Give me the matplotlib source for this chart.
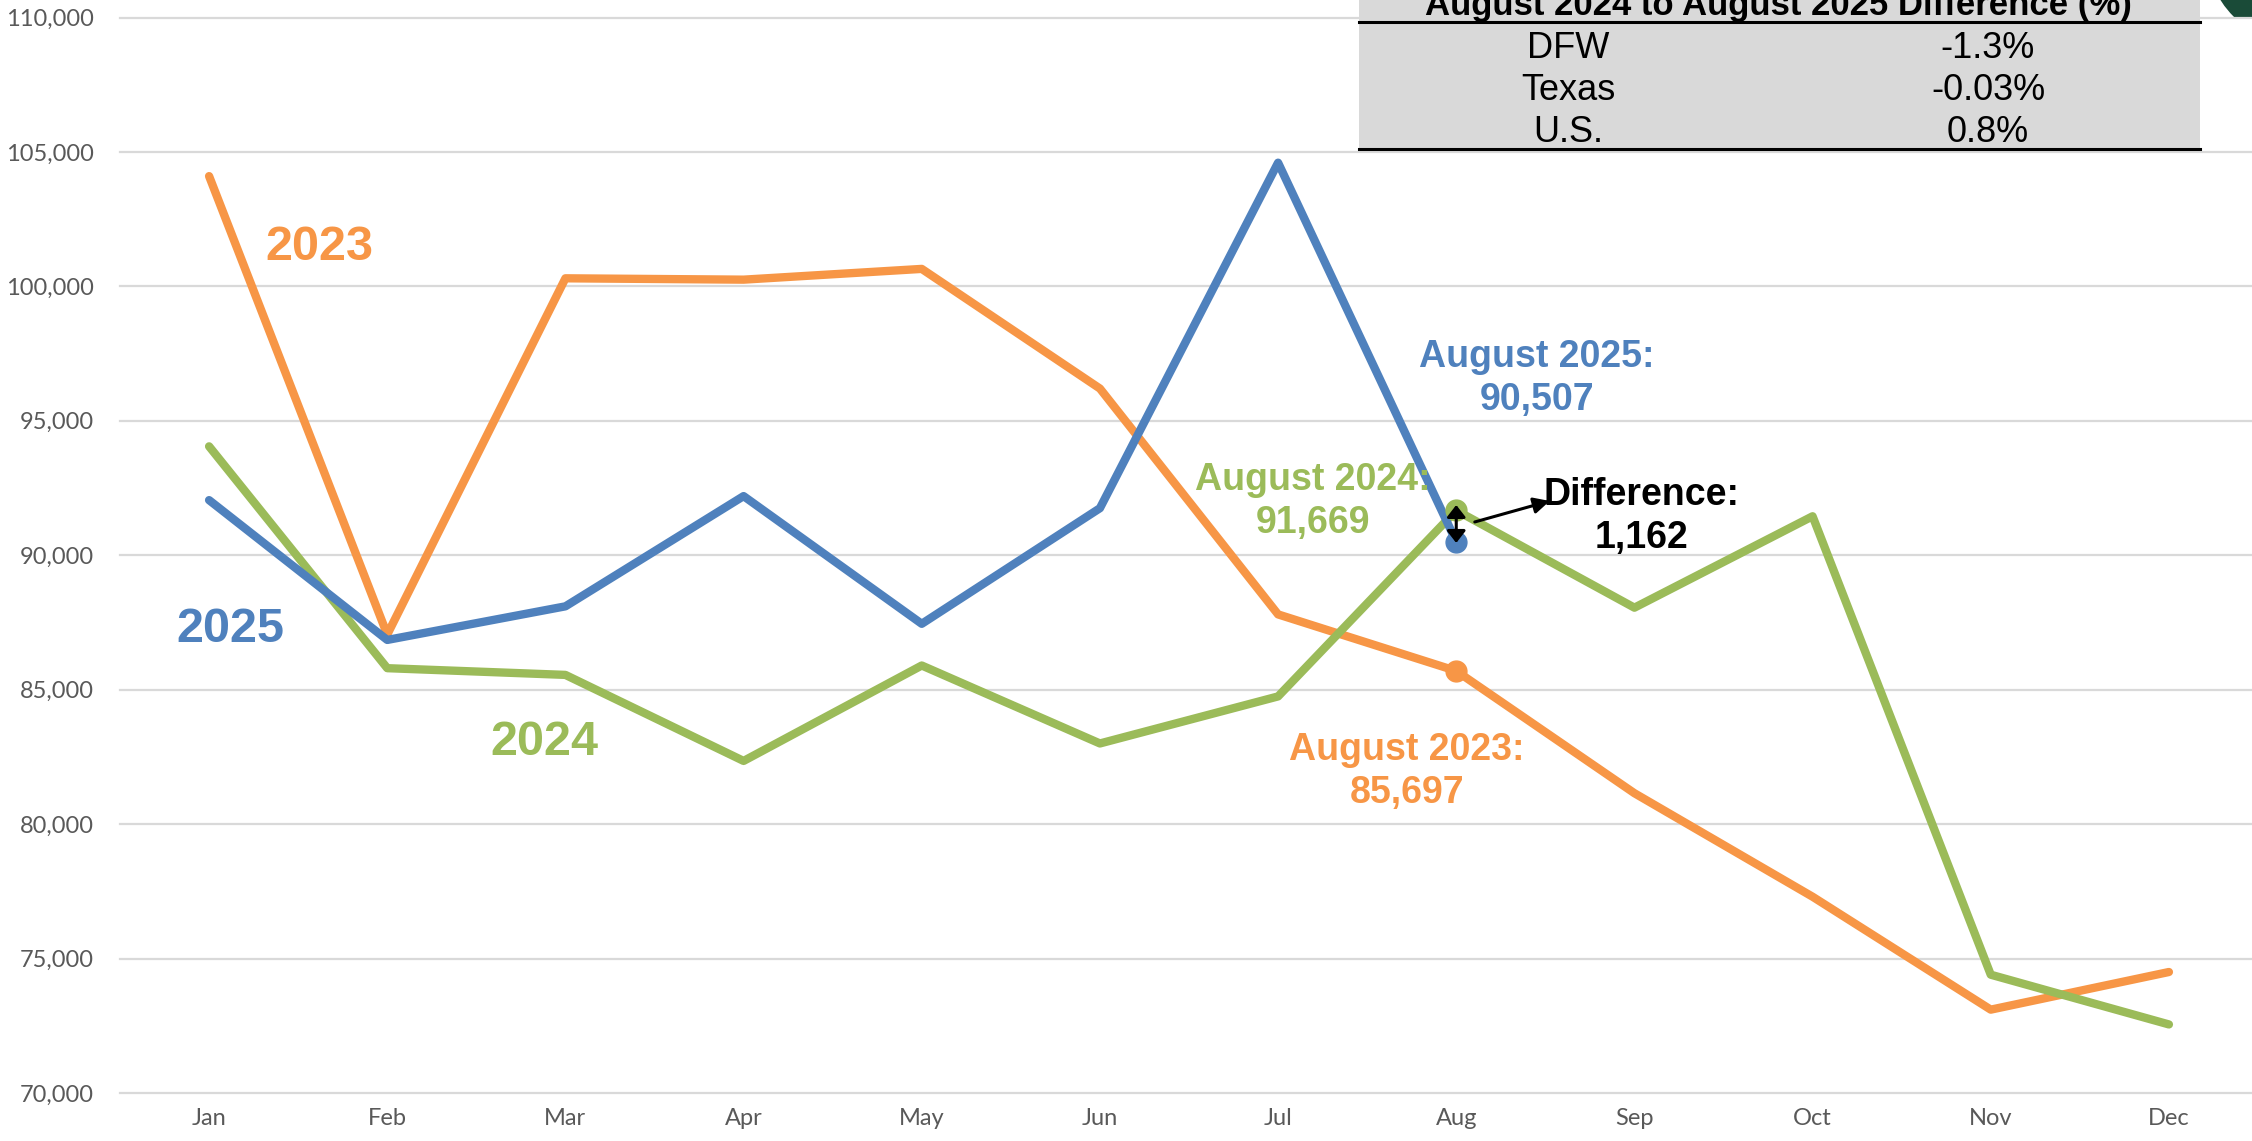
import matplotlib
matplotlib.use("Agg")
import matplotlib.pyplot as plt
import matplotlib.ticker as mticker
from matplotlib.patches import Rectangle, Ellipse
from matplotlib.lines import Line2D

# DATOS
meses = ["Jan", "Feb", "Mar", "Apr", "May", "Jun", "Jul", "Aug", "Sep", "Oct", "Nov", "Dec"]
y2023 = [104100, 87050, 100300, 100250, 100650, 96200, 87800, 85697, 81150, 77300, 73100, 74500]
y2024 = [94050, 85800, 85550, 82350, 85900, 83000, 84750, 91669, 88050, 91450, 74400, 72550]
y2025 = [92050, 86850, 88100, 92200, 87450, 91750, 104600, 90507]

tabla_titulo = "August 2024 to August 2025 Difference (%)"
tabla_region = ["DFW", "Texas", "U.S."]
tabla_valor = ["-1.3%", "-0.03%", "0.8%"]

C23, C24, C25 = "#F79646", "#9BBB59", "#4F81BD"
W, H = 2252, 1141

def fx(px):
    return px / W

def fy(py):
    return 1 - py / H

fig = plt.figure(figsize=(W / 100, H / 100), dpi=100)
ax = fig.add_axes([fx(120), fy(1093), (2258 - 120) / W, (1093 - 17.5) / H])

x = list(range(len(meses)))
estilo = dict(lw=6, solid_joinstyle="round", solid_capstyle="round")
ax.plot(x, y2023, color=C23, **estilo)
ax.plot(x, y2024, color=C24, **estilo)
ax.plot(x[:len(y2025)], y2025, color=C25, **estilo)

# puntos de agosto
ago = 7
ax.plot(ago, y2023[ago], "o", color=C23, ms=15)
ax.plot(ago, y2024[ago], "o", color=C24, ms=15)
ax.plot(ago, y2025[ago], "o", color=C25, ms=15)

# ejes
ax.set_xlim(-0.5, 11.5)
ax.set_ylim(70000, 110000)
ax.set_xticks(x)
ax.set_xticklabels(meses)
ax.set_yticks(range(70000, 110001, 5000))
ax.yaxis.set_major_formatter(mticker.FuncFormatter(lambda v, p: f"{int(v):,}"))
for s in ax.spines.values():
    s.set_visible(False)
ax.yaxis.grid(True, color="#D9D9D9", lw=1.6)
for g in ax.get_ygridlines():
    g.set_clip_on(False)
ax.set_axisbelow(True)
ax.tick_params(axis="y", length=0, pad=19, labelsize=17, labelcolor="#595959")
ax.tick_params(axis="x", length=0, pad=11, labelsize=17, labelcolor="#595959")
for lab in ax.get_xticklabels() + ax.get_yticklabels():
    lab.set_family(["Lato", "DejaVu Sans"])

# etiquetas de series
fb = dict(family="Liberation Sans", weight="bold")
ax.text(0.62, 100982, "2023", color=C23, fontsize=35, ha="center", va="baseline", **fb)
ax.text(0.12, 86776, "2025", color=C25, fontsize=35, ha="center", va="baseline", **fb)
ax.text(1.88, 82574, "2024", color=C24, fontsize=35, ha="center", va="baseline", **fb)

# (y = línea base de la segunda línea)
nota = dict(fontsize=27, ha="center", va="baseline", linespacing=1.25, **fb)
ax.text(7.452, 95403, f"August 2025:\n{y2025[ago]:,}", color=C25, **nota)
ax.text(6.195, 90829, f"August 2024:\n{y2024[ago]:,}", color=C24, **nota)
ax.text(6.723, 80788, f"August 2023:\n{y2023[ago]:,}", color=C23, **nota)
dif = y2024[ago] - y2025[ago]
ax.text(8.042, 90271, f"Difference:\n{dif:,}", color="black", **nota)

# flechas
ax.annotate("", xy=(ago, y2024[ago] + 200), xytext=(ago, y2025[ago] - 50),
            arrowprops=dict(arrowstyle="<|-|>,head_length=0.36,head_width=0.28",
                            color="black", lw=2.2, mutation_scale=20,
                            shrinkA=0, shrinkB=0))
ax.annotate("", xy=(7.525, 92019), xytext=(7.104, 91238),
            arrowprops=dict(arrowstyle="-|>", color="black", lw=2.2,
                            mutation_scale=24, shrinkA=0, shrinkB=0))

# tabla superior
fig.add_artist(Rectangle((fx(1359), fy(149)), (2200 - 1359) / W, 149 / H,
                         transform=fig.transFigure, facecolor="#D9D9D9",
                         edgecolor="none", zorder=2))
for py in (22, 149):
    fig.add_artist(Line2D([fx(1359), fx(2200)], [fy(py), fy(py)],
                          transform=fig.transFigure, color="black", lw=2.2, zorder=3))
fn = "Liberation Sans"
fig.text(fx(1778), fy(15), tabla_titulo, fontsize=25, weight="bold", family=fn,
         ha="center", va="baseline", zorder=4)
for i, (r, v) in enumerate(zip(tabla_region, tabla_valor)):
    base = 58 + i * 42
    fig.text(fx(1568), fy(base), r, fontsize=26, family=fn, ha="center", va="baseline", zorder=4)
    fig.text(fx(1988), fy(base), v, fontsize=26, family=fn, ha="center", va="baseline", zorder=4)

# logo (círculo verde)
fig.add_artist(Ellipse((fx(2300), fy(-50)), 188 / W, 188 / H,
                       transform=fig.transFigure, facecolor="#1A4B38",
                       edgecolor="none", zorder=-1))

fig.savefig("out.png", dpi=100, facecolor="white")
